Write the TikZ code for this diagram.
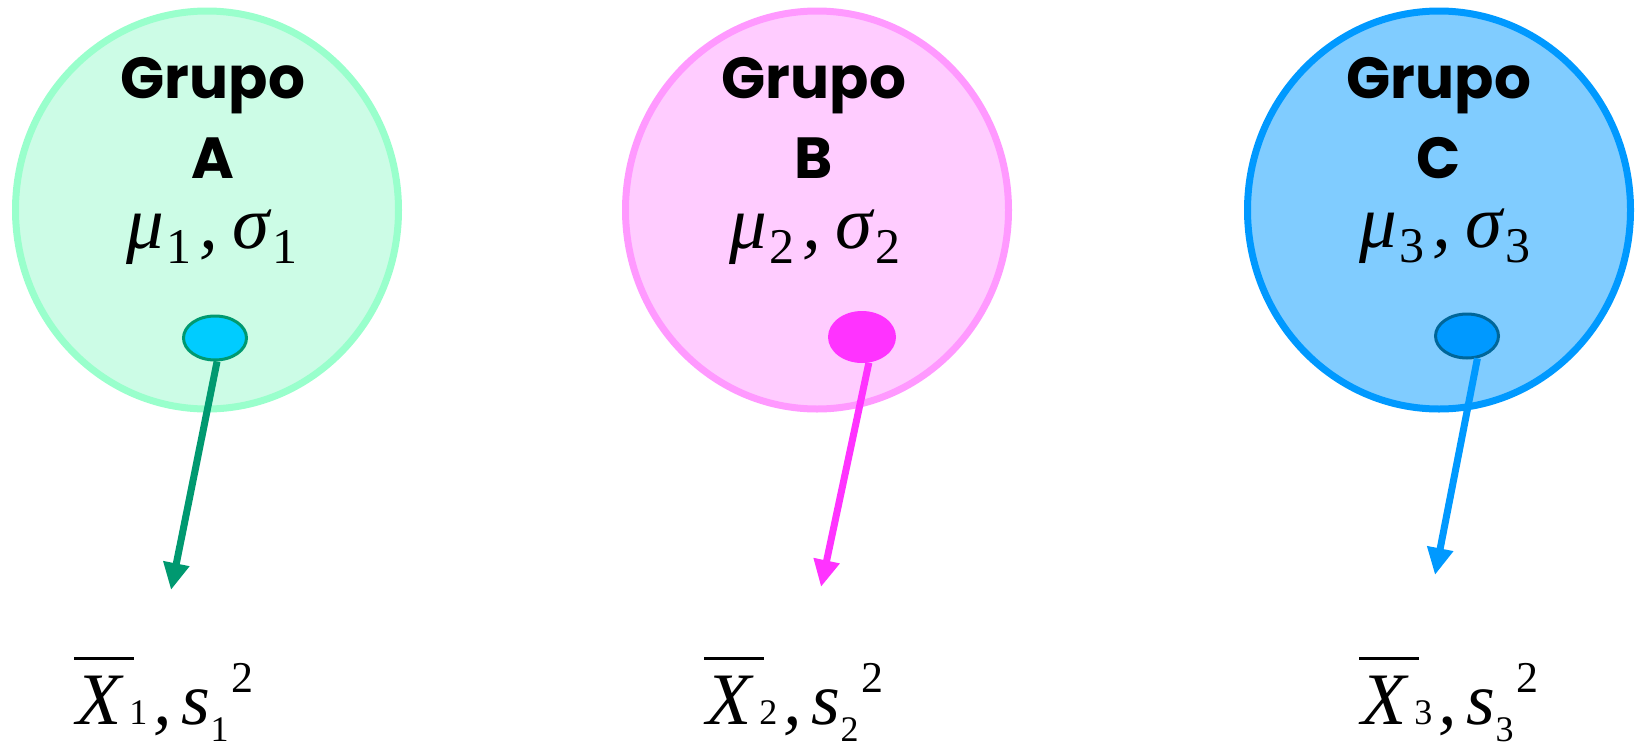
\documentclass[tikz,border=0pt]{standalone}
\usepackage{fontspec}
\usetikzlibrary{shapes.geometric,arrows.meta}

\newfontfamily\grupofont{Poppins}
\newfontfamily\serifit{Liberation Serif}

\definecolor{mintfill}{HTML}{CCFCE6}
\definecolor{mintline}{HTML}{99FFCC}
\definecolor{pinkfill}{HTML}{FFCCFF}
\definecolor{pinkline}{HTML}{FF99FF}
\definecolor{skyfill}{HTML}{80CCFF}
\definecolor{skyline}{HTML}{0099FF}
\definecolor{greenarrow}{HTML}{009970}
\definecolor{cyanunit}{HTML}{00CCFF}
\definecolor{magunit}{HTML}{FF33FF}
\definecolor{navyline}{HTML}{006699}

% parameter and statistic labels, equation editor style
\newcommand{\param}[1]{μ\kern2pt\raisebox{-15pt}{\upshape\fontsize{50}{50}\selectfont #1}\kern8pt,\kern14pt σ\kern3pt\raisebox{-15pt}{\upshape\fontsize{50}{50}\selectfont #1}}
\newcommand{\xbar}{\rlap{\kern-2pt\raisebox{0.87em}{\rule{0.81em}{3pt}}}X}
\newcommand{\statlabel}[1]{\xbar\kern8pt{\upshape\fontsize{36}{36}\selectfont #1}\kern6pt,\kern10pt s\raisebox{-17pt}{\upshape\fontsize{36}{36}\selectfont #1}\kern3pt\raisebox{32pt}{\upshape\fontsize{44}{44}\selectfont 2}}

\begin{document}
\begin{tikzpicture}[x=1pt,y=-1pt,
  popcircle/.style={ellipse,line width=7pt,minimum width=383pt,minimum height=398pt,inner sep=0pt},
  unit/.style={ellipse,minimum width=63pt,minimum height=44pt,inner sep=0pt},
  grouptitle/.style={font=\grupofont\bfseries\fontsize{58}{80}\selectfont,align=center,inner sep=0pt,anchor=north},
  paramtext/.style={font=\serifit\itshape\fontsize{75}{80}\selectfont,inner sep=0pt,anchor=base},
  stattext/.style={font=\serifit\itshape\fontsize{74}{80}\selectfont,inner sep=0pt,anchor=base west},
  samplearrow/.style={line width=7pt,-{Triangle[length=27pt,width=25pt]}}]
  \useasboundingbox (0,0) rectangle (1640,747);

  % the three populations
  \node[popcircle,draw=mintline,fill=mintfill] (popA) at (207,210) {};
  \node[popcircle,draw=pinkline,fill=pinkfill] (popB) at (817,210) {};
  \node[popcircle,draw=skyline,fill=skyfill] (popC) at (1439,210) {};

  % titles and parameters
  \node[grouptitle] (titleA) at (213,57) {Grupo\\A};
  \node[grouptitle] (titleB) at (814,57) {Grupo\\B};
  \node[grouptitle] (titleC) at (1439,57) {Grupo\\C};
  \node[paramtext] (parA) at (212,248) {\param{1}};
  \node[paramtext] (parB) at (815,248) {\param{2}};
  \node[paramtext] (parC) at (1445,247) {\param{3}};

  % sampled units
  \node[unit,fill=cyanunit,draw=greenarrow,line width=3pt] (unitA) at (215,338) {};
  \node[unit,fill=magunit,minimum width=68pt,minimum height=52pt] (unitB) at (862,337) {};
  \node[unit,fill=skyline,draw=navyline,line width=3pt] (unitC) at (1467,336) {};

  % sample statistics
  \node[stattext] (statA) at (76,724) {\statlabel{1}};
  \node[stattext] (statB) at (706,724) {\statlabel{2}};
  \node[stattext] (statC) at (1361,724) {\statlabel{3}};

  % arrows
  \coordinate (tipA) at (171,590);
  \coordinate (tipB) at (821,587);
  \coordinate (tipC) at (1435,575);
  \draw[samplearrow,greenarrow] (unitA.-85) -- (tipA);
  \draw[samplearrow,magunit] (unitB.-75) -- (tipB);
  \draw[samplearrow,skyline] (unitC.-65) -- (tipC);
\end{tikzpicture}
\end{document}
